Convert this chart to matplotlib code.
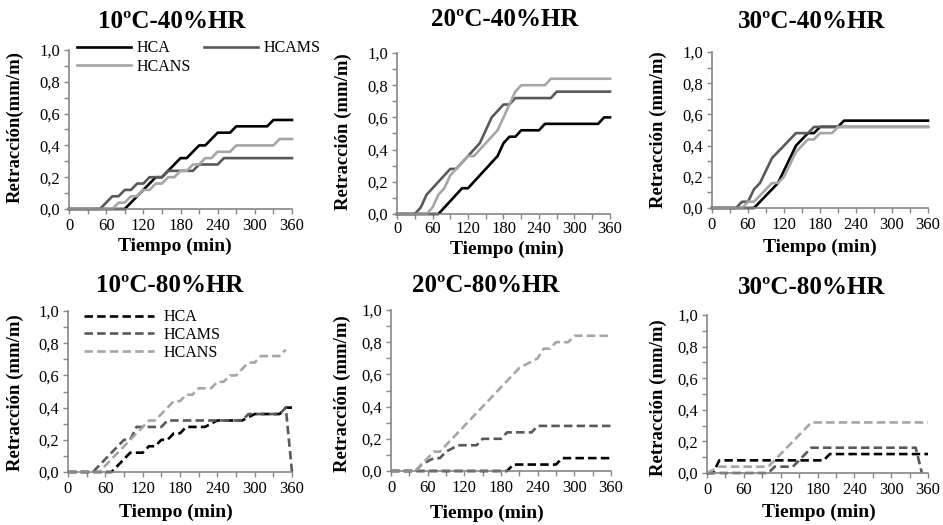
import numpy as np
import matplotlib
matplotlib.use("Agg")
import matplotlib.pyplot as plt
from matplotlib.ticker import MultipleLocator, FuncFormatter

plt.rcParams['font.family'] = ['Liberation Serif', 'DejaVu Serif']

# tiempo (min), lectura cada 10 min
tiempo = list(range(0, 361, 10))
nan = np.nan

# 10ºC-40%HR
hca_10_40 = [0, 0, 0, 0, 0, 0, 0, 0, 0, 0, 0.04, 0.08, 0.12, 0.16, 0.2, 0.2, 0.24, 0.28, 0.32,
             0.32, 0.36, 0.4, 0.4, 0.44, 0.48, 0.48, 0.48, 0.52, 0.52, 0.52, 0.52, 0.52, 0.52,
             0.56, 0.56, 0.56, 0.56]
hcams_10_40 = [0, 0, 0, 0, 0, 0, 0.04, 0.08, 0.08, 0.12, 0.12, 0.16, 0.16, 0.2, 0.2, 0.2, 0.24,
               0.24, 0.24, 0.24, 0.24, 0.28, 0.28, 0.28, 0.28, 0.32, 0.32, 0.32, 0.32, 0.32, 0.32,
               0.32, 0.32, 0.32, 0.32, 0.32, 0.32]
hcans_10_40 = [0, 0, 0, 0, 0, 0, 0, 0, 0.04, 0.04, 0.08, 0.08, 0.12, 0.12, 0.16, 0.16, 0.2, 0.2,
               0.24, 0.24, 0.28, 0.28, 0.32, 0.32, 0.36, 0.36, 0.36, 0.4, 0.4, 0.4, 0.4, 0.4, 0.4,
               0.4, 0.44, 0.44, 0.44]

# 20ºC-40%HR
hca_20_40 = [0, 0, 0, 0, 0, 0, 0, 0, 0.04, 0.08, 0.12, 0.16, 0.16, 0.2, 0.24, 0.28, 0.32, 0.36,
             0.44, 0.48, 0.48, 0.52, 0.52, 0.52, 0.52, 0.56, 0.56, 0.56, 0.56, 0.56, 0.56, 0.56,
             0.56, 0.56, 0.56, 0.6, 0.6]
hcams_20_40 = [0, 0, 0, 0, 0.04, 0.12, 0.16, 0.2, 0.24, 0.28, 0.28, 0.32, 0.36, 0.4, 0.44, 0.52,
               0.6, 0.64, 0.68, 0.68, 0.72, 0.72, 0.72, 0.72, 0.72, 0.72, 0.72, 0.76, 0.76, 0.76,
               0.76, 0.76, 0.76, 0.76, 0.76, 0.76, 0.76]
hcans_20_40 = [0, 0, 0, 0, 0, 0, 0.04, 0.12, 0.16, 0.24, 0.28, 0.32, 0.36, 0.36, 0.4, 0.44, 0.48,
               0.52, 0.6, 0.68, 0.76, 0.8, 0.8, 0.8, 0.8, 0.8, 0.84, 0.84, 0.84, 0.84, 0.84, 0.84,
               0.84, 0.84, 0.84, 0.84, 0.84]

# 30ºC-40%HR
hca_30_40 = [0, 0, 0, 0, 0, 0, 0, 0, 0.04, 0.08, 0.12, 0.16, 0.24, 0.32, 0.4, 0.44, 0.48, 0.48,
             0.52, 0.52, 0.52, 0.52, 0.56, 0.56, 0.56, 0.56, 0.56, 0.56, 0.56, 0.56, 0.56, 0.56,
             0.56, 0.56, 0.56, 0.56, 0.56]
hcams_30_40 = [0, 0, 0, 0, 0, 0.04, 0.04, 0.12, 0.16, 0.24, 0.32, 0.36, 0.4, 0.44, 0.48, 0.48,
               0.48, 0.52, 0.52, 0.52, 0.52, 0.52, 0.52, 0.52, 0.52, 0.52, 0.52, 0.52, 0.52, 0.52,
               0.52, 0.52, 0.52, 0.52, 0.52, 0.52, 0.52]
hcans_30_40 = [0, 0, 0, 0, 0, 0, 0.04, 0.04, 0.08, 0.12, 0.16, 0.16, 0.2, 0.28, 0.36, 0.4, 0.44,
               0.44, 0.48, 0.48, 0.48, 0.52, 0.52, 0.52, 0.52, 0.52, 0.52, 0.52, 0.52, 0.52, 0.52,
               0.52, 0.52, 0.52, 0.52, 0.52, 0.52]

# 10ºC-80%HR
hca_10_80 = [0, 0, 0, 0, 0, 0, 0, 0, 0.04, 0.08, 0.12, 0.12, 0.12, 0.16, 0.16, 0.2, 0.2, 0.24,
             0.24, 0.28, 0.28, 0.28, 0.28, 0.3, 0.32, 0.32, 0.32, 0.32, 0.32, 0.34, 0.36, 0.36,
             0.36, 0.36, 0.36, 0.4, 0.4]
hcams_10_80 = [0, 0, 0, 0, 0, 0.04, 0.08, 0.12, 0.16, 0.2, 0.2, 0.28, 0.28, 0.28, 0.28, 0.28,
               0.32, 0.32, 0.32, 0.32, 0.32, 0.32, 0.32, 0.32, 0.32, 0.32, 0.32, 0.32, 0.32, 0.36,
               0.36, 0.36, 0.36, 0.36, 0.36, 0.4, 0]
hcans_10_80 = [0, 0, 0, 0, 0, 0, 0.04, 0.08, 0.12, 0.16, 0.2, 0.24, 0.28, 0.32, 0.32, 0.36, 0.4,
               0.44, 0.44, 0.48, 0.48, 0.52, 0.52, 0.52, 0.56, 0.56, 0.6, 0.6, 0.64, 0.68, 0.68,
               0.72, 0.72, 0.72, 0.72, 0.76, nan]

# 20ºC-80%HR
hca_20_80 = [0, 0, 0, 0, 0, 0, 0, 0, 0, 0, 0, 0, 0, 0, 0, 0, 0, 0, 0, 0, 0.04, 0.04, 0.04, 0.04,
             0.04, 0.04, 0.04, 0.04, 0.08, 0.08, 0.08, 0.08, 0.08, 0.08, 0.08, 0.08, 0.08]
hcams_20_80 = [0, 0, 0, 0, 0, 0.04, 0.06, 0.08, 0.08, 0.12, 0.14, 0.16, 0.16, 0.16, 0.16, 0.2,
               0.2, 0.2, 0.2, 0.24, 0.24, 0.24, 0.24, 0.24, 0.28, 0.28, 0.28, 0.28, 0.28, 0.28,
               0.28, 0.28, 0.28, 0.28, 0.28, 0.28, 0.28]
hcans_20_80 = [0, 0, 0, 0, 0, 0.04, 0.08, 0.12, 0.12, 0.16, 0.2, 0.24, 0.28, 0.32, 0.36, 0.4,
               0.44, 0.48, 0.52, 0.56, 0.6, 0.64, 0.66, 0.68, 0.7, 0.76, 0.76, 0.8, 0.8, 0.8, 0.84,
               0.84, 0.84, 0.84, 0.84, 0.84, 0.84]

# 30ºC-80%HR
hca_30_80 = [0, 0, 0.08, 0.08, 0.08, 0.08, 0.08, 0.08, 0.08, 0.08, 0.08, 0.08, 0.08, 0.08, 0.08,
             0.08, 0.08, 0.08, 0.08, 0.08, 0.12, 0.12, 0.12, 0.12, 0.12, 0.12, 0.12, 0.12, 0.12,
             0.12, 0.12, 0.12, 0.12, 0.12, 0.12, 0.12, 0.12]
hcams_30_80 = [0, 0, 0, 0, 0, 0, 0, 0, 0, 0, 0, 0.04, 0.04, 0.04, 0.04, 0.08, 0.12, 0.16, 0.16,
               0.16, 0.16, 0.16, 0.16, 0.16, 0.16, 0.16, 0.16, 0.16, 0.16, 0.16, 0.16, 0.16, 0.16,
               0.16, 0.16, 0, nan]
hcans_30_80 = [0, 0.02, 0.04, 0.04, 0.04, 0.04, 0.04, 0.04, 0.04, 0.04, 0.04, 0.08, 0.12, 0.16,
               0.2, 0.24, 0.28, 0.32, 0.32, 0.32, 0.32, 0.32, 0.32, 0.32, 0.32, 0.32, 0.32, 0.32,
               0.32, 0.32, 0.32, 0.32, 0.32, 0.32, 0.32, 0.32, 0.32]

series_names = ['HCA', 'HCAMS', 'HCANS']
colores = ['#000000', '#595959', '#a6a6a6']

W, H = 943, 525
fig = plt.figure(figsize=(W / 100, H / 100), dpi=100)


def px(x0, x1, y0, y1):
    # pixel box -> figure fraction
    return [x0 / W, 1 - y1 / H, (x1 - x0) / W, (y1 - y0) / H]


paneles = [
    # titulo, datos, caja de ejes (px), centro titulo, centro xlabel, centro ylabel, ylabel, dashed, pad x
    ('10ºC-40%HR', [hca_10_40, hcams_10_40, hcans_10_40], (69, 292, 50, 209), (172, 22), (175, 246), (15, 127), 'Retracción(mm/m)', False, 3),
    ('20ºC-40%HR', [hca_20_40, hcams_20_40, hcans_20_40], (397, 610, 53, 214), (505, 19), (507, 249), (343, 132), 'Retracción (mm/m)', False, 1.5),
    ('30ºC-40%HR', [hca_30_40, hcams_30_40, hcans_30_40], (712, 928, 52, 208), (812, 22), (820, 247), (658, 130), 'Retracción (mm/m)', False, 3),
    ('10ºC-80%HR', [hca_10_80, hcams_10_80, hcans_10_80], (68, 292, 311, 472), (170, 285), (176, 512), (15, 393), 'Retracción (mm/m)', True, 3),
    ('20ºC-80%HR', [hca_20_80, hcams_20_80, hcans_20_80], (391, 611, 310, 471), (486, 285), (487, 513), (342, 394), 'Retracción (mm/m)', True, 3),
    ('30ºC-80%HR', [hca_30_80, hcams_30_80, hcans_30_80], (707, 928, 315, 473), (812, 287), (819, 512), (658, 398), 'Retracción (mm/m)', True, 3),
]

axis_col = '#868686'
coma = FuncFormatter(lambda v, p: ('%.1f' % v).replace('.', ','))

for i, (titulo, datos, caja, tpos, xpos, ypos, ylab, dashed, xpad) in enumerate(paneles):
    ax = fig.add_axes(px(*caja))
    lineas = []
    for nombre, serie, c in zip(series_names, datos, colores):
        ls = (0, (3.2, 1.6)) if dashed else '-'
        ln, = ax.plot(tiempo, serie, color=c, lw=1.9, ls=ls, label=nombre, clip_on=False)
        lineas.append(ln)
    ax.set_xlim(0, 360)
    ax.set_ylim(0, 1.0)
    ax.xaxis.set_major_locator(MultipleLocator(60))
    ax.xaxis.set_minor_locator(MultipleLocator(30))
    ax.yaxis.set_major_locator(MultipleLocator(0.2))
    ax.yaxis.set_minor_locator(MultipleLocator(0.1))
    ax.yaxis.set_major_formatter(coma)
    for s in ['top', 'right']:
        ax.spines[s].set_visible(False)
    for s in ['left', 'bottom']:
        ax.spines[s].set_color(axis_col)
        ax.spines[s].set_linewidth(1.2)
    ax.tick_params(which='both', direction='out', length=3.5, width=1, color=axis_col,
                   labelsize=12, pad=3)
    ax.tick_params(axis='x', pad=xpad)

    fig.text(tpos[0] / W, 1 - tpos[1] / H, titulo, ha='center', va='center',
             fontsize=18, fontweight='bold')
    fig.text(xpos[0] / W, 1 - xpos[1] / H, 'Tiempo (min)', ha='center', va='center',
             fontsize=14, fontweight='bold')
    fig.text(ypos[0] / W, 1 - ypos[1] / H, ylab, ha='center', va='center',
             fontsize=13.5, fontweight='bold', rotation=90)

    if i == 0:
        # orden por columnas: HCA / HCANS en la primera, HCAMS en la segunda
        orden = [lineas[0], lineas[2], lineas[1]]
        ax.legend(orden, [l.get_label() for l in orden], loc='upper left',
                  bbox_to_anchor=(0.035, 1.06), ncol=2, frameon=False,
                  fontsize=11.5, handlelength=3.4, handletextpad=0.35, columnspacing=0.8,
                  labelspacing=0.15, borderpad=0, borderaxespad=0)
    if i == 3:
        ax.legend(loc='upper left', bbox_to_anchor=(0.07, 1.01), ncol=1, frameon=False,
                  fontsize=11.5, handlelength=4.4, handletextpad=0.6,
                  labelspacing=0.1, borderpad=0, borderaxespad=0)

fig.savefig('out.png', dpi=100)
